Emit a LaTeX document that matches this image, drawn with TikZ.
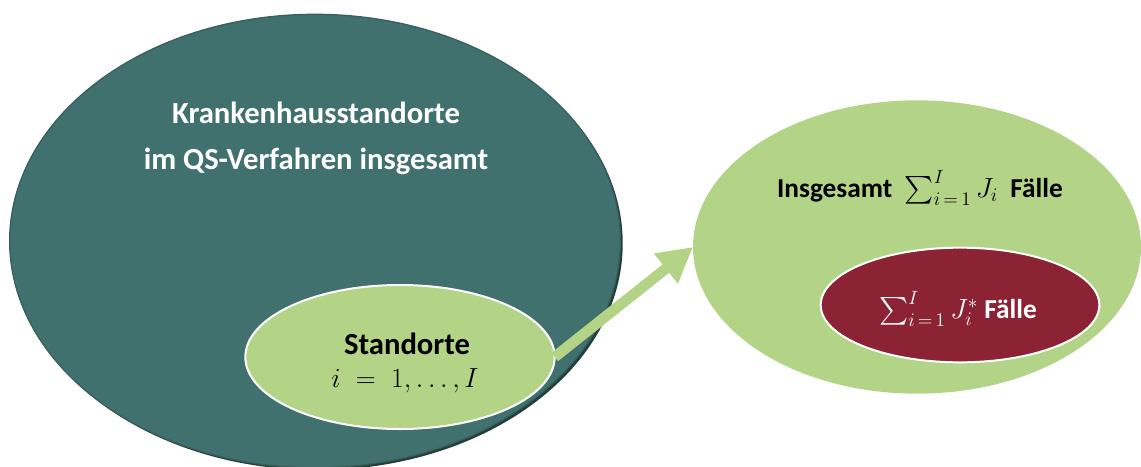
\documentclass[tikz,border=0pt]{standalone}
\usepackage{exscale}
\usepackage[no-math]{fontspec}
\setmainfont{Carlito}
\usepackage{tikz}
\usepackage{xcolor}
\usetikzlibrary{shapes.geometric,arrows.meta,shadows}

\definecolor{qsteal}{RGB}{65,113,110}
\definecolor{qsgreen}{RGB}{179,211,134}
\definecolor{qsred}{RGB}{139,35,52}

\begin{document}
\begin{tikzpicture}[x=0.75pt, y=-0.75pt, thick]
\tikzstyle{blob}=[ellipse, inner sep=0pt, outer sep=0pt]
\tikzstyle{label}=[font=\fontsize{20.5}{37}\selectfont\bfseries, align=center]
\tikzstyle{biglabel}=[font=\fontsize{23}{34.5}\selectfont\bfseries, align=center]
\useasboundingbox (0,0) rectangle (1141,467);
% outer sets
\node[blob, fill=qsteal, draw=qsteal!85!black, line width=1pt,
  drop shadow={shadow xshift=1.8pt, shadow yshift=-1.8pt, opacity=1, fill=qsteal!55!black},
  minimum width=458pt, minimum height=340pt] (kh) at (315,241) {};
\node[blob, fill=qsgreen, minimum width=336pt, minimum height=220pt] (faelle) at (917,247) {};
% inner sets
\node[blob, fill=qsgreen, draw=white, line width=1.5pt,
  minimum width=232pt, minimum height=108pt] (standorte) at (400,357) {};
\node[blob, fill=qsred, draw=white, line width=1.5pt,
  minimum width=209pt, minimum height=86pt] (sub) at (960,305) {};
% texts
\node[biglabel, text=white] (khtext) at (316,138) {Krankenhausstandorte\\im QS-Verfahren insgesamt};
\node[biglabel, text=black] (sttext) at (407,344) {Standorte};
\node[text=black, font=\fontsize{21}{25}\selectfont] (stmath) at (405,381) {$i\;=\;1,\ldots,I$};
\node[label, text=black] (ftext) at (920,188)
  {Insgesamt \ $\textstyle\sum_{i\,=\,1}^{I} J_i$ \ Fälle};
\node[label, text=white] (subtext) at (958,309)
  {$\textstyle\sum_{i\,=\,1}^{I} J_i^{*}$ Fälle};
% arrow
\draw[qsgreen, line width=8pt, -{Triangle[length=26pt, width=27pt]}] (standorte.east) -- (faelle.west);
\end{tikzpicture}
\end{document}
